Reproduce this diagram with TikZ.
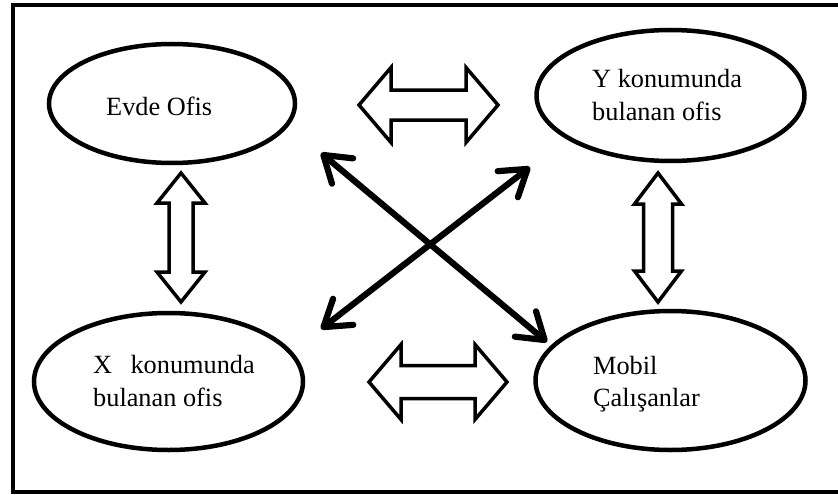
\documentclass[tikz,border=0pt]{standalone}
\usepackage{fontspec}
\setmainfont{Liberation Serif}
\usetikzlibrary{shapes.geometric,arrows.meta}

% hollow double-headed block arrow:
% #1 centre, #2 rotation, #3 half length, #4 head length, #5 head half width, #6 shaft half width
\newcommand{\blockdbl}[6]{%
  \draw[blockarrow, shift={#1}, rotate=#2]
    (-#3,0) -- ({-#3+#4},-#5) -- ({-#3+#4},-#6) -- ({#3-#4},-#6) -- ({#3-#4},-#5)
    -- (#3,0) -- ({#3-#4},#5) -- ({#3-#4},#6) -- ({-#3+#4},#6) -- ({-#3+#4},#5) -- cycle;}

\tikzset{
  place/.style={ellipse, draw=black, line width=4.5pt, inner sep=0pt, fill=white},
  lbl/.style={anchor=base west, inner sep=0pt, font=\fontsize{26.3}{32}\selectfont},
  blockarrow/.style={draw=black, line width=3.5pt, line join=miter, fill=white},
  cross/.style={line width=6.2pt, line cap=round,
    {Straight Barb[length=25pt, width=33pt, round]}-{Straight Barb[length=25pt, width=33pt, round]}},
  frame/.style={line width=3.5pt}
}

\begin{document}
\begin{tikzpicture}[x=1pt, y=-1pt]
  \useasboundingbox (0,0) rectangle (838,495);

  % outer frame (its right side lies past the page edge)
  \draw[frame] (845,5) -- (13,5) -- (13,492) -- (845,492);

  % the four places
  \node[place, minimum width=246pt, minimum height=119pt] (evde) at (172,103.5) {};
  \node[place, minimum width=268pt, minimum height=131pt] (yofis) at (670.5,95.5) {};
  \node[place, minimum width=269pt, minimum height=137pt] (xofis) at (168.5,381.5) {};
  \node[place, minimum width=270pt, minimum height=139pt] (mobil) at (670.5,380.5) {};

  % labels
  \node[lbl] (evdeT) at (106,115) {Evde Ofis};
  \node[lbl] (yofisT1) at (592,88) {Y konumunda};
  \node[lbl] (yofisT2) at (592,120) {bulanan ofis};
  \node[lbl] (xofisT1) at (93,373) {X\hspace{0.7em}konumunda};
  \node[lbl] (xofisT2) at (93,406) {bulanan ofis};
  \node[lbl] (mobilT1) at (593,374) {Mobil};
  \node[lbl] (mobilT2) at (593,406) {Çalışanlar};

  % hollow block arrows between neighbouring places
  \blockdbl{(428.5,105)}{0}{69.5}{32}{37.5}{15}
  \blockdbl{(438,382)}{0}{69}{32}{37.5}{16.5}
  \blockdbl{(181,237.5)}{90}{64.5}{30}{24}{12}
  \blockdbl{(658,237.5)}{90}{64.5}{31}{23.5}{14.5}

  % diagonal arrows crossing in the middle
  \coordinate (ulTip) at (321,153);
  \coordinate (lrTip) at (547,342);
  \coordinate (urTip) at (530,167);
  \coordinate (llTip) at (321,329);
  \draw[cross] (ulTip) -- (lrTip);
  \draw[cross] (urTip) -- (llTip);
\end{tikzpicture}
\end{document}
